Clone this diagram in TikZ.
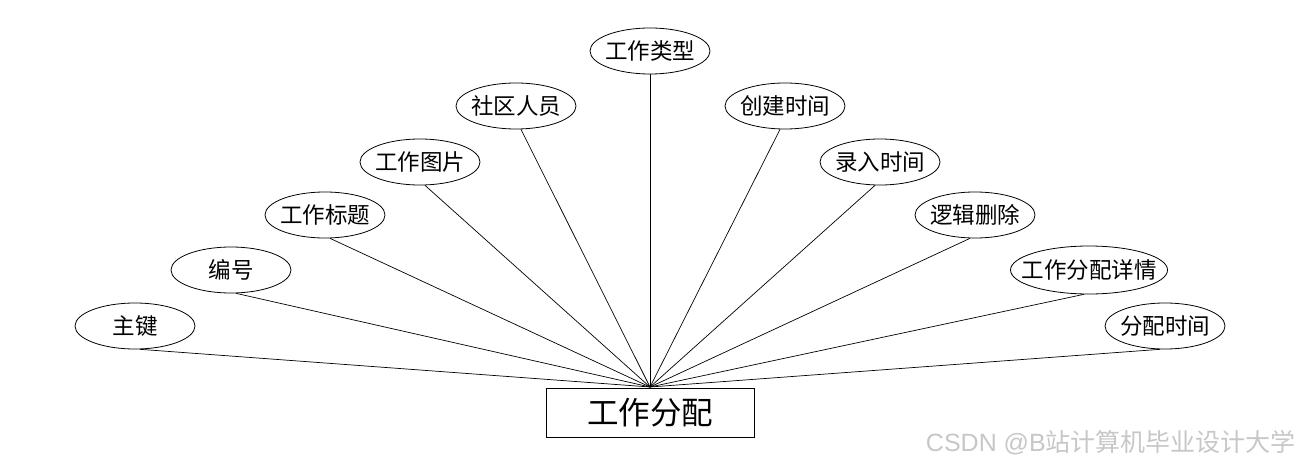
\documentclass[tikz,border=0pt]{standalone}
\usepackage{fontspec}
\usetikzlibrary{shapes.geometric}
\setmainfont{Noto Sans CJK SC}
\newfontfamily\wmfont{Liberation Sans}
\newfontfamily\cjkfont{Noto Sans CJK SC}
\newcommand{\zw}[1]{\makebox[0pt]{#1}}
\begin{document}
\begin{tikzpicture}[x=1pt,y=-1pt,
  attr/.style={draw,ellipse,line width=0.8pt,minimum width=120pt,minimum height=46pt,inner sep=0pt,font=\fontsize{22.5}{22.5}\selectfont},
  ent/.style={draw,rectangle,line width=0.8pt,minimum width=208pt,minimum height=49pt,inner sep=0pt,font=\fontsize{31.5}{31.5}\selectfont},
  link/.style={line width=0.7pt}]
\useasboundingbox (0,0) rectangle (1300,468);
\node[ent] (box) at (650,412.5) {工作分配};
\coordinate (hub) at (650,387);
\node[attr] (a1) at (135,326) {\zw{主键}};
\node[attr] (a2) at (231,270) {\zw{编号}};
\node[attr] (a3) at (325,215) {\zw{工作标题}};
\node[attr] (a4) at (420,162) {\zw{工作图片}};
\node[attr] (a5) at (516,106) {\zw{社区人员}};
\node[attr] (a6) at (650,51) {\zw{工作类型}};
\node[attr] (a7) at (785,106) {\zw{创建时间}};
\node[attr] (a8) at (880,162) {\zw{录入时间}};
\node[attr] (a9) at (975,215) {\zw{逻辑删除}};
\node[attr,minimum width=157pt,minimum height=48pt] (a10) at (1089,270) {\zw{工作分配详情}};
\node[attr] (a11) at (1165,326) {\zw{分配时间}};
\foreach \n in {a1,a2,a3,a4,a5}{\draw[link] (\n.-78) -- (hub);}
\draw[link] (a6.south) -- (hub);
\foreach \n in {a7,a8,a9,a10,a11}{\draw[link] (\n.-102) -- (hub);}
\node[anchor=east,text=black!22,inner sep=0pt] (wm) at (1296,443) {\fontsize{25}{25}\selectfont\wmfont CSDN @B\cjkfont 站计算机毕业设计大学};
\end{tikzpicture}
\end{document}
